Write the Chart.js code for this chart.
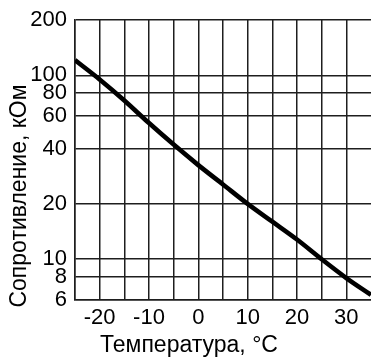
<!DOCTYPE html>
<html>
<head>
<meta charset="utf-8">
<script src="https://cdn.jsdelivr.net/npm/chart.js@4/dist/chart.umd.min.js"></script>
<style>
  html, body { margin: 0; padding: 0; background: #fff; }
  canvas { display: block; }
</style>
</head>
<body>
<canvas id="c" width="371" height="358"></canvas>
<script>
// NTC thermistor: resistance versus temperature
const temperatures = [-25, -20, -15, -10, -5, 0, 5, 10, 15, 20, 25, 30, 35];
const resistanceKOhm = [121, 95, 73, 55, 42, 32.5, 25.5, 20, 16, 12.8, 10, 7.9, 6.4];
const yTickValues = [6, 8, 10, 20, 40, 60, 80, 100, 200];
const xTickLabels = [-20, -10, 0, 10, 20, 30];
const xTitle = 'Температура, °C';
const yTitle = 'Сопротивление, кОм';

const FONT = '"Liberation Sans", Arial, sans-serif';
const GRID = '#1e1e1e';

// axis titles, placed by hand so the y title can sit lower than the plot centre
const axisTitles = {
  id: 'axisTitles',
  afterDraw(chart) {
    const ctx = chart.ctx;
    ctx.save();
    ctx.fillStyle = '#000';
    ctx.font = '23px ' + FONT;
    ctx.textAlign = 'center';
    ctx.textBaseline = 'alphabetic';
    ctx.fillText(xTitle, 189, 352);
    ctx.translate(26, 196);
    ctx.rotate(-Math.PI / 2);
    ctx.fillText(yTitle, 0, 0);
    ctx.restore();
  }
};

new Chart(document.getElementById('c'), {
  type: 'line',
  data: {
    datasets: [{
      data: temperatures.map((t, i) => ({ x: t, y: resistanceKOhm[i] })),
      borderColor: '#000',
      borderWidth: 4.6,
      pointRadius: 0,
      cubicInterpolationMode: 'monotone',
      fill: false
    }]
  },
  options: {
    responsive: false,
    animation: false,
    layout: { padding: { top: 20, right: 0, left: 0, bottom: 0 } },
    plugins: { legend: { display: false }, tooltip: { enabled: false } },
    scales: {
      x: {
        type: 'linear',
        min: -25,
        max: 35,
        afterFit(scale) {
          scale.height = 58;
          scale.paddingLeft = 0;
          scale.paddingRight = 0;
        },
        afterBuildTicks(scale) {
          const ticks = [];
          for (let v = -25; v <= 35; v += 5) ticks.push({ value: v });
          scale.ticks = ticks;
        },
        ticks: {
          autoSkip: false,
          maxRotation: 0,
          padding: 5,
          color: '#000',
          font: { size: 22, family: FONT },
          callback: (v) => xTickLabels.includes(v) ? String(v) : ''
        },
        grid: {
          drawTicks: false,
          lineWidth: 1.5,
          color: (c) => (c.tick && c.tick.value === 35) ? 'rgba(0,0,0,0)' : GRID
        },
        border: { color: GRID, width: 1.5 }
      },
      y: {
        type: 'logarithmic',
        min: 6,
        max: 200,
        afterFit(scale) {
          scale.width = 75;
          scale.paddingTop = 0;
          scale.paddingBottom = 0;
        },
        afterBuildTicks(scale) {
          scale.ticks = yTickValues.map(v => ({ value: v }));
        },
        ticks: {
          autoSkip: false,
          padding: 8,
          color: '#000',
          font: { size: 22, family: FONT },
          callback: (v) => String(v)
        },
        grid: { drawTicks: false, lineWidth: 1.5, color: GRID },
        border: { color: GRID, width: 1.5 }
      }
    }
  },
  plugins: [axisTitles]
});
</script>
</body>
</html>
